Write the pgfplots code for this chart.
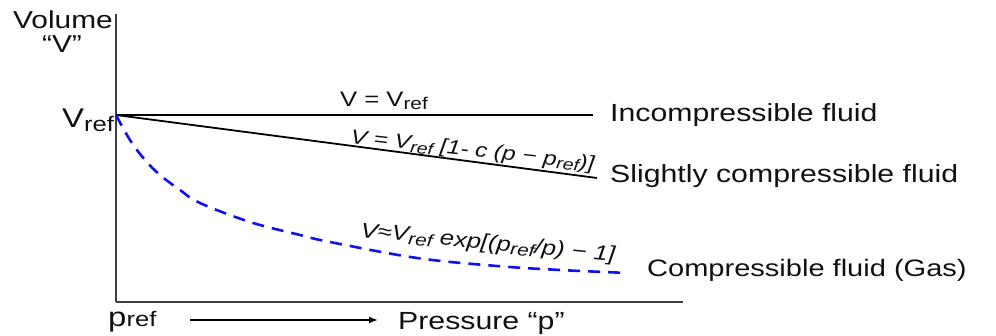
\documentclass[border=0pt]{standalone}
\usepackage{fontspec}
\setmainfont{Liberation Sans}[FakeStretch=1.22]
\usepackage{pgfplots}
\pgfplotsset{compat=1.18}
\usetikzlibrary{arrows.meta}
\definecolor{txt}{HTML}{111111}
\definecolor{gasblue}{HTML}{1010F0}
\newcommand{\fs}[1]{\fontsize{#1}{#1}\selectfont}
\begin{document}
\begin{tikzpicture}
\begin{axis}[
  scale only axis, width=567pt, height=288pt,
  xmin=116, xmax=683, ymin=34, ymax=322,
  axis lines=left,
  axis line style={-, draw=black!75, line width=1.8pt},
  xtick=\empty, ytick=\empty,
  clip=false,
]
% incompressible
\addplot[black, line width=1.8pt] coordinates {(116,221) (593,221)};
% slightly compressible
\addplot[black, line width=1.8pt] coordinates {(116,221) (597,158)};
% gas
\addplot[gasblue, line width=2.6pt, dash pattern=on 12pt off 8pt, smooth, tension=0.6] coordinates {
(116,221) (130,196) (145,176) (160,161) (180,146) (200,133) (250,114) (300,101)
(330,94) (417,78) (497,70) (560,66) (628,63)};
\path (axis cs:0,0) rectangle (axis cs:996,336);
\node[anchor=base, txt, font=\fs{24.5}] at (axis cs:63,307) {Volume};
\node[anchor=base, txt, font=\fs{24.5}] at (axis cs:62,283) {“V”};
\node[anchor=base west, txt, inner sep=0pt] at (axis cs:62,208) {\fs{27}V\raisebox{-4pt}{\fs{21}ref}};
\node[anchor=base west, txt, inner sep=0pt] at (axis cs:340,229) {\fs{21}V = V\raisebox{-3pt}{\fs{17}ref}};
\node[anchor=base west, txt, inner sep=0pt, rotate=-6.3] at (axis cs:350,193) {\fs{20}\itshape V = V\raisebox{-3pt}{\fs{16}ref} [1- c (p − p\raisebox{-3pt}{\fs{16}ref})]};
\node[anchor=base west, txt, inner sep=0pt, rotate=-5.5] at (axis cs:360,99) {\fs{21}\itshape V≈V\raisebox{-3pt}{\fs{17}ref} exp[(p\raisebox{-3pt}{\fs{17}ref}/p) − 1]};
\node[anchor=base west, txt, inner sep=0pt, font=\fs{24.8}] at (axis cs:610,214) {Incompressible fluid};
\node[anchor=base west, txt, inner sep=0pt, font=\fs{24.8}] at (axis cs:610,153) {Slightly compressible fluid};
\node[anchor=base west, txt, inner sep=0pt, font=\fs{23.8}] at (axis cs:647,59) {Compressible fluid (Gas)};
\node[anchor=base west, txt, inner sep=0pt] at (axis cs:108,9) {\fs{27}p\fs{21}ref};
\draw[-{Latex[length=9pt,width=7pt]}, line width=1.6pt, black] (axis cs:190,16) -- (axis cs:378,16);
\node[anchor=base west, txt, inner sep=0pt, font=\fs{24.8}] at (axis cs:398,6) {Pressure “p”};
\end{axis}
\end{tikzpicture}
\end{document}
